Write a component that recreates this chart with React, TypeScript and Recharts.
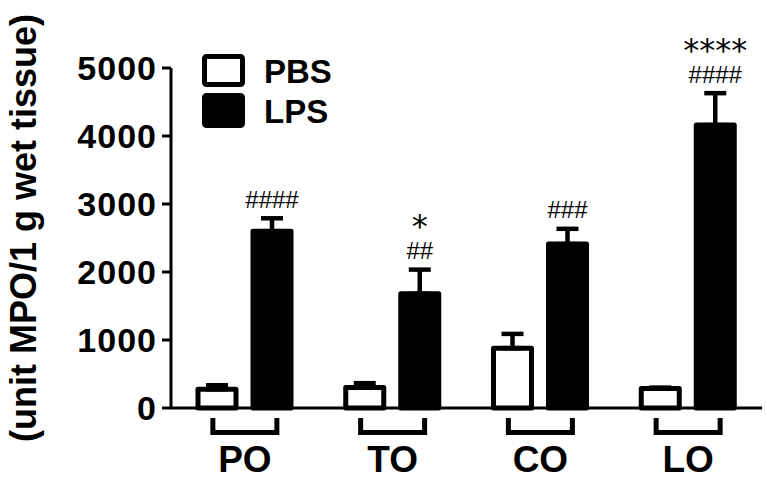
import React from "react";
import { BarChart, Bar, XAxis, YAxis, ErrorBar, LabelList, Legend } from "recharts";

const categories = ["PO", "TO", "CO", "LO"];
const pbsValues = [275, 300, 880, 285];
const pbsErrors = [60, 65, 210, 15];
const lpsValues = [2600, 1680, 2410, 4160];
const lpsErrors = [190, 355, 225, 470];
const hashMarks = ["####", "##", "###", "####"];
const starMarks = ["", "*", "", "****"];
const yTicks = [0, 1000, 2000, 3000, 4000, 5000];

const W = 767;
const H = 487;
const X_AXIS_H = 79;
const MARGIN = { top: 68, right: 5, bottom: 0, left: 0 };
const AXIS_Y = H - X_AXIS_H;
const FONT = "'Liberation Sans', Arial, Helvetica, sans-serif";

const data = categories.map((c, i) => ({
  name: c,
  pbs: pbsValues[i],
  pbsErr: [0, pbsErrors[i]],
  lps: lpsValues[i],
  lpsErr: [0, lpsErrors[i]],
  hash: hashMarks[i],
  star: starMarks[i],
  err: lpsErrors[i],
}));

const GroupTick = (props: any) => {
  const { x, payload } = props;
  const half = 32;
  return (
    <g>
      <path
        d={`M${x - half},${AXIS_Y + 10} V${AXIS_Y + 24.5} H${x + half} V${AXIS_Y + 10}`}
        stroke="#000"
        strokeWidth={5}
        fill="none"
      />
      <text
        x={x}
        y={AXIS_Y + 64}
        textAnchor="middle"
        fontSize={37}
        fontWeight="bold"
        fontFamily={FONT}
        fill="#000"
      >
        {payload.value}
      </text>
    </g>
  );
};

const AnnotLabel = (props: any) => {
  const vb = props.viewBox || props;
  const x = vb.x;
  const y = vb.y;
  const width = vb.width;
  const height = Math.abs(vb.height);
  const idx = props.index;
  const row = data[idx];
  if (!row) return null;
  const pxPerUnit = height / row.lps;
  const capY = y - row.err * pxPerUnit;
  const cx = x + width / 2;
  const hashCenter = capY - 19;
  const starCenter = hashCenter - 30;
  return (
    <g>
      <text
        x={cx}
        y={hashCenter + 8.4}
        textAnchor="middle"
        fontSize={24}
        fontFamily={FONT}
        fill="#000"
      >
        {row.hash}
      </text>
      {row.star ? (
        <text
          x={cx}
          y={starCenter + 16.6}
          textAnchor="middle"
          fontSize={32}
          fontFamily="'DejaVu Sans', sans-serif"
          fill="#000"
        >
          {row.star}
        </text>
      ) : null}
    </g>
  );
};

const LegendContent = () => (
  <svg width={160} height={90} style={{ display: "block" }}>
    <rect x={8.5} y={10.5} width={38} height={28} rx={2} fill="#fff" stroke="#000" strokeWidth={5} strokeLinejoin="round" />
    <rect x={8.5} y={49.5} width={38} height={30} rx={2} fill="#000" stroke="#000" strokeWidth={5} strokeLinejoin="round" />
    <text x={68} y={37} fontSize={33} fontWeight="bold" fontFamily={FONT} fill="#000">
      PBS
    </text>
    <text x={68} y={77} fontSize={33} fontWeight="bold" fontFamily={FONT} fill="#000">
      LPS
    </text>
  </svg>
);

const YLabel = () => (
  <text
    x={36}
    y={228}
    transform="rotate(-90 36 228)"
    textAnchor="middle"
    fontSize={36}
    fontWeight="bold"
    fontFamily={FONT}
    fill="#000"
  >
    (unit MPO/1 g wet tissue)
  </text>
);

export default function App() {
  return (
    <div style={{ position: "fixed", top: 0, left: 0, width: W, height: H, background: "#fff" }}>
      <BarChart width={W} height={H} data={data} margin={MARGIN} barSize={38} barGap={17}>
        <XAxis
          dataKey="name"
          axisLine={{ stroke: "#000", strokeWidth: 3 }}
          tickLine={false}
          tick={<GroupTick />}
          interval={0}
          height={X_AXIS_H}
        />
        <YAxis
          domain={[0, 5000]}
          ticks={yTicks}
          interval={0}
          width={171}
          axisLine={{ stroke: "#000", strokeWidth: 3 }}
          tickLine={{ stroke: "#000", strokeWidth: 3 }}
          tickSize={9}
          tickMargin={5}
          tick={{ fill: "#000", fontSize: 34, fontWeight: "bold", fontFamily: FONT, letterSpacing: 1 }}
          label={<YLabel />}
        />
        <Legend
          layout="horizontal"
          verticalAlign="middle"
          align="center"
          content={<LegendContent />}
          wrapperStyle={{ left: 196, top: 46, width: 160, height: 90 }}
        />
        <Bar
          dataKey="pbs"
          name="PBS"
          fill="#fff"
          stroke="#000"
          strokeWidth={5}
          strokeLinejoin="round"
          isAnimationActive={false}
        >
          <ErrorBar dataKey="pbsErr" width={11} strokeWidth={4.5} stroke="#000" direction="y" isAnimationActive={false} />
        </Bar>
        <Bar
          dataKey="lps"
          name="LPS"
          fill="#000"
          stroke="#000"
          strokeWidth={5}
          strokeLinejoin="round"
          isAnimationActive={false}
        >
          <ErrorBar dataKey="lpsErr" width={11} strokeWidth={4.5} stroke="#000" direction="y" isAnimationActive={false} />
          <LabelList dataKey="lps" content={<AnnotLabel />} />
        </Bar>
      </BarChart>
    </div>
  );
}
